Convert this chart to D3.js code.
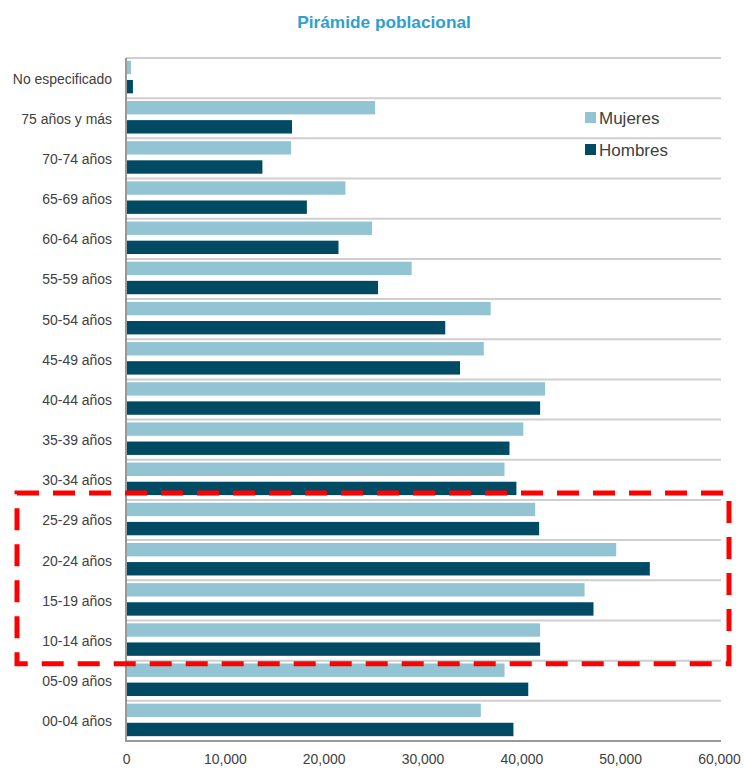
<!DOCTYPE html>
<html>
<head>
<meta charset="utf-8">
<script src="https://cdn.jsdelivr.net/npm/d3@7"></script>
<style>
  html, body { margin: 0; padding: 0; background: #fff; }
  svg { display: block; }
  text { font-family: "Liberation Sans", Arial, sans-serif; }
</style>
</head>
<body>
<svg id="chart" width="744" height="769"></svg>
<script>
// Age groups, top to bottom
const categories = [
  "No especificado", "75 años y más", "70-74 años", "65-69 años", "60-64 años",
  "55-59 años", "50-54 años", "45-49 años", "40-44 años", "35-39 años",
  "30-34 años", "25-29 años", "20-24 años", "15-19 años", "10-14 años",
  "05-09 años", "00-04 años"
];
const mujeres = [
  400, 25100, 16600, 22100, 24800, 28800, 36800, 36100, 42300, 40100,
  38200, 41300, 49500, 46300, 41800, 38200, 35800
];
const hombres = [
  600, 16700, 13700, 18200, 21400, 25400, 32200, 33700, 41800, 38700,
  39400, 41700, 52900, 47200, 41800, 40600, 39100
];
const series = ["Mujeres", "Hombres"];
const xTicks = [0, 10000, 20000, 30000, 40000, 50000, 60000];
// Age groups enclosed by the dashed highlight box
const highlighted = ["25-29 años", "10-14 años"];

const colors = { Mujeres: "#93c4d3", Hombres: "#004b63" };
const textColor = "#404040";
const narrow = 0.9; // horizontal squeeze for the condensed label face

const svg = d3.select("#chart");
const plotLeft = 126, plotRight = 719, plotTop = 58, plotBottom = 741;

const x = d3.scaleLinear().domain([0, 60000]).range([plotLeft, plotRight]);
const y = d3.scaleBand().domain(categories).range([plotTop, plotBottom]).padding(0);
const ySub = d3.scaleBand().domain(series).range([0, y.bandwidth()])
  .paddingInner(0.3).paddingOuter(0.2);

// Title
svg.append("text")
  .attr("transform", "translate(384,28) scale(1.08,1)")
  .attr("text-anchor", "middle")
  .attr("font-size", 16).attr("font-weight", "bold")
  .attr("fill", "#2f9fd3")
  .text("Pirámide poblacional");

// Horizontal separators between age groups
const bounds = categories.map(c => y(c)).concat([plotBottom]);
svg.append("g").selectAll("line").data(bounds).join("line")
  .attr("x1", plotLeft).attr("x2", plotRight + 2)
  .attr("y1", d => d).attr("y2", d => d)
  .attr("stroke", "#cfcfcf").attr("stroke-width", 2);

// Bars
const rows = categories.map((c, i) => ({ cat: c, Mujeres: mujeres[i], Hombres: hombres[i] }));
const groups = svg.append("g").selectAll("g").data(rows).join("g")
  .attr("transform", d => `translate(0,${y(d.cat) - 1})`);
groups.selectAll("rect")
  .data(d => series.map(s => ({ key: s, value: d[s] })))
  .join("rect")
  .attr("x", x(0) + 1)
  .attr("y", d => ySub(d.key))
  .attr("width", d => x(d.value) - x(0))
  .attr("height", ySub.bandwidth())
  .attr("fill", d => colors[d.key]);

// Category labels
svg.append("g").selectAll("text").data(categories).join("text")
  .attr("transform", d => `translate(112,${y(d) + y.bandwidth() / 2}) scale(${narrow},1)`)
  .attr("dy", "0.35em")
  .attr("text-anchor", "end")
  .attr("font-size", 15.5)
  .attr("fill", textColor)
  .text(d => d);

// Value axis
const xAxis = d3.axisBottom(x).tickValues(xTicks).tickFormat(d3.format(",")).tickSize(0).tickPadding(0);
const gx = svg.append("g").attr("transform", `translate(0,${plotBottom})`).call(xAxis);
gx.select(".domain").remove();
gx.selectAll("text")
  .attr("y", null).attr("dy", null)
  .attr("transform", `translate(0,23) scale(${narrow},1)`)
  .attr("font-size", 15.5).attr("fill", textColor)
  .attr("font-family", "Liberation Sans, Arial, sans-serif");

// Axis lines
svg.append("line").attr("x1", plotLeft).attr("x2", plotLeft).attr("y1", plotTop).attr("y2", plotBottom + 1)
  .attr("stroke", "#777").attr("stroke-width", 1.5);
svg.append("line").attr("x1", plotLeft).attr("x2", plotRight + 2).attr("y1", plotBottom).attr("y2", plotBottom)
  .attr("stroke", "#999").attr("stroke-width", 2);

// Legend
const legend = svg.append("g").selectAll("g").data(series).join("g")
  .attr("transform", (d, i) => `translate(585,${112 + i * 32})`);
legend.append("rect").attr("width", 11).attr("height", 11).attr("fill", d => colors[d]);
legend.append("text")
  .attr("x", 14).attr("y", 6).attr("dy", "0.35em")
  .attr("font-size", 17).attr("fill", textColor)
  .text(d => d);

// Dashed highlight box around the youth age groups
const boxTop = y(highlighted[0]) - 7;
const boxBottom = y(highlighted[1]) + y.bandwidth() + 3;
svg.append("rect")
  .attr("x", 17).attr("y", boxTop)
  .attr("width", 729 - 17).attr("height", boxBottom - boxTop)
  .attr("fill", "none")
  .attr("stroke", "#ff0000").attr("stroke-width", 5)
  .attr("stroke-dasharray", "22,14");
</script>
</body>
</html>
